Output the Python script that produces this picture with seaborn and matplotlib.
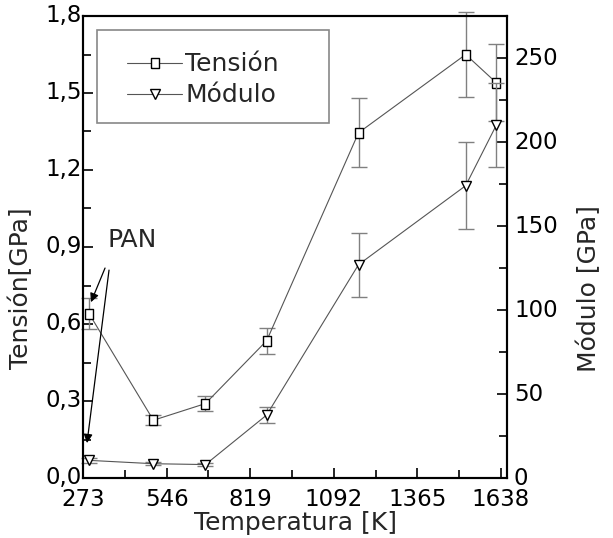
import matplotlib
matplotlib.use("Agg")
import matplotlib.pyplot as plt
import matplotlib.transforms as mtrans
from matplotlib.patches import Rectangle
import seaborn as sns
import pandas as pd
from matplotlib.ticker import MultipleLocator, FixedLocator

# Heat-treatment temperatures (K) and measured fibre properties
temperatura = [293, 503, 673, 873, 1173, 1523, 1623]
tension = [0.64, 0.225, 0.29, 0.535, 1.345, 1.65, 1.54]
tension_err = [0.06, 0.02, 0.03, 0.05, 0.135, 0.165, 0.15]
modulo = [10.5, 8.5, 8.0, 37.5, 127, 174, 210]
modulo_err = [1.5, 1.0, 1.0, 5.0, 19, 26, 25]

x_ticks = [273, 546, 819, 1092, 1365, 1638]
left_ticks = [0.0, 0.3, 0.6, 0.9, 1.2, 1.5, 1.8]
left_labels = ["0,0", "0,3", "0,6", "0,9", "1,2", "1,5", "1,8"]
right_ticks = [0, 50, 100, 150, 200, 250]

df = pd.DataFrame({"T": temperatura, "tension": tension, "modulo": modulo})

sns.set_style("ticks")
plt.rcParams["font.family"] = ["DejaVu Sans"]
FS = 16.5   # tick labels
LFS = 18    # axis labels, legend, annotation

fig = plt.figure(figsize=(6.13, 5.38), dpi=100)
ax = fig.add_axes([83 / 613, 1 - 478 / 538, 424 / 613, 462 / 538])
ax2 = ax.twinx()

rect = [(-0.78, -1), (0.78, -1), (0.78, 1), (-0.78, 1), (-0.78, -1)]
line_col = "#555555"
err_col = "#808080"

# Error bars
ax.errorbar(temperatura, tension, yerr=tension_err, fmt="none", ecolor=err_col,
            elinewidth=1.0, capsize=6, capthick=1.0, clip_on=False, zorder=2)
ax2.errorbar(temperatura, modulo, yerr=modulo_err, fmt="none", ecolor=err_col,
             elinewidth=1.0, capsize=6, capthick=1.0, clip_on=False, zorder=2)

# Lines with markers
sns.lineplot(data=df, x="T", y="tension", ax=ax, color=line_col, linewidth=0.8,
             marker=rect, markersize=7.5, markerfacecolor="white",
             markeredgecolor="black", markeredgewidth=1.0, label="Tensión",
             legend=False, clip_on=False, zorder=3)
sns.lineplot(data=df, x="T", y="modulo", ax=ax2, color=line_col, linewidth=0.8,
             marker="v", markersize=7.8, markerfacecolor="white",
             markeredgecolor="black", markeredgewidth=1.0, label="Módulo",
             legend=False, clip_on=False, zorder=3)

# Axes limits and ticks
ax.set_xlim(273, 1658)
ax.set_ylim(0, 1.8)
ax2.set_ylim(0, 275)
ax.xaxis.set_major_locator(FixedLocator(x_ticks))
ax.set_xticklabels([str(t) for t in x_ticks])
ax.xaxis.set_minor_locator(FixedLocator([t + 136.5 for t in x_ticks[:-1]]))
ax.yaxis.set_major_locator(FixedLocator(left_ticks))
ax.set_yticklabels(left_labels)
ax.yaxis.set_minor_locator(MultipleLocator(0.15))
ax2.yaxis.set_major_locator(FixedLocator(right_ticks))
ax2.set_yticklabels([str(t) for t in right_ticks])
ax2.yaxis.set_minor_locator(MultipleLocator(25))

ax.tick_params(axis="both", which="both", direction="in", colors="black",
               labelsize=FS, width=1.2, top=False, right=False)
ax.tick_params(axis="both", which="major", length=7)
ax.tick_params(axis="both", which="minor", length=6)
ax.tick_params(axis="x", which="major", pad=7)
ax.tick_params(axis="y", which="major", pad=1)
ax2.tick_params(axis="y", which="both", direction="in", colors="black",
                labelsize=FS, width=1.2, left=False)
ax2.tick_params(axis="y", which="major", length=7, pad=5)
ax2.tick_params(axis="y", which="minor", length=6)

# Lift the y tick labels slightly above their ticks
lift_l = mtrans.ScaledTranslation(0, 3 / 100, fig.dpi_scale_trans)
lift_r = mtrans.ScaledTranslation(0, 2 / 100, fig.dpi_scale_trans)
for lab in ax.get_yticklabels():
    lab.set_transform(lab.get_transform() + lift_l)
for lab in ax2.get_yticklabels():
    lab.set_transform(lab.get_transform() + lift_r)

for a in (ax, ax2):
    for s in a.spines.values():
        s.set_visible(True)
        s.set_color("black")
        s.set_linewidth(1.5)

ax.set_xlabel("Temperatura [K]", fontsize=LFS)
ax.xaxis.set_label_coords(0.5, -0.097)
ax.xaxis.label.set_va("center")
ax.set_ylabel("Tensión[GPa]", fontsize=LFS, va="center")
ax.yaxis.set_label_coords(-0.146, 0.41)
ax2.set_ylabel("Módulo [GPa]", fontsize=LFS, va="center", rotation=90)
ax2.yaxis.set_label_coords(1.194, 0.41)

# PAN annotation with two arrows
ax.text(352, 0.90, "PAN", fontsize=LFS, ha="left", va="baseline")
ax.annotate("", xy=(299, 0.685), xytext=(345, 0.818),
            arrowprops=dict(arrowstyle="-|>", color="black", lw=0.9,
                            mutation_scale=13, shrinkA=0, shrinkB=0))
ax.annotate("", xy=(286, 0.136), xytext=(358, 0.81),
            arrowprops=dict(arrowstyle="-|>", color="black", lw=0.9,
                            mutation_scale=13, shrinkA=0, shrinkB=0))

# Legend box and entries
ax2.add_patch(Rectangle((0.033, 0.768), 0.547, 0.201, transform=ax.transAxes,
                        facecolor="white", edgecolor="#888888", linewidth=1.2,
                        zorder=4.5, clip_on=False))
h1, l1 = ax.get_legend_handles_labels()
h2, l2 = ax2.get_legend_handles_labels()
leg = ax2.legend(h1 + h2, l1 + l2, loc="upper left",
                 bbox_to_anchor=(0.1038, 0.921), fontsize=LFS, frameon=False,
                 borderpad=0, labelspacing=0.28, handlelength=2.2,
                 handletextpad=0.12, borderaxespad=0)
leg.set_zorder(5)

fig.savefig("out.png", dpi=100)
